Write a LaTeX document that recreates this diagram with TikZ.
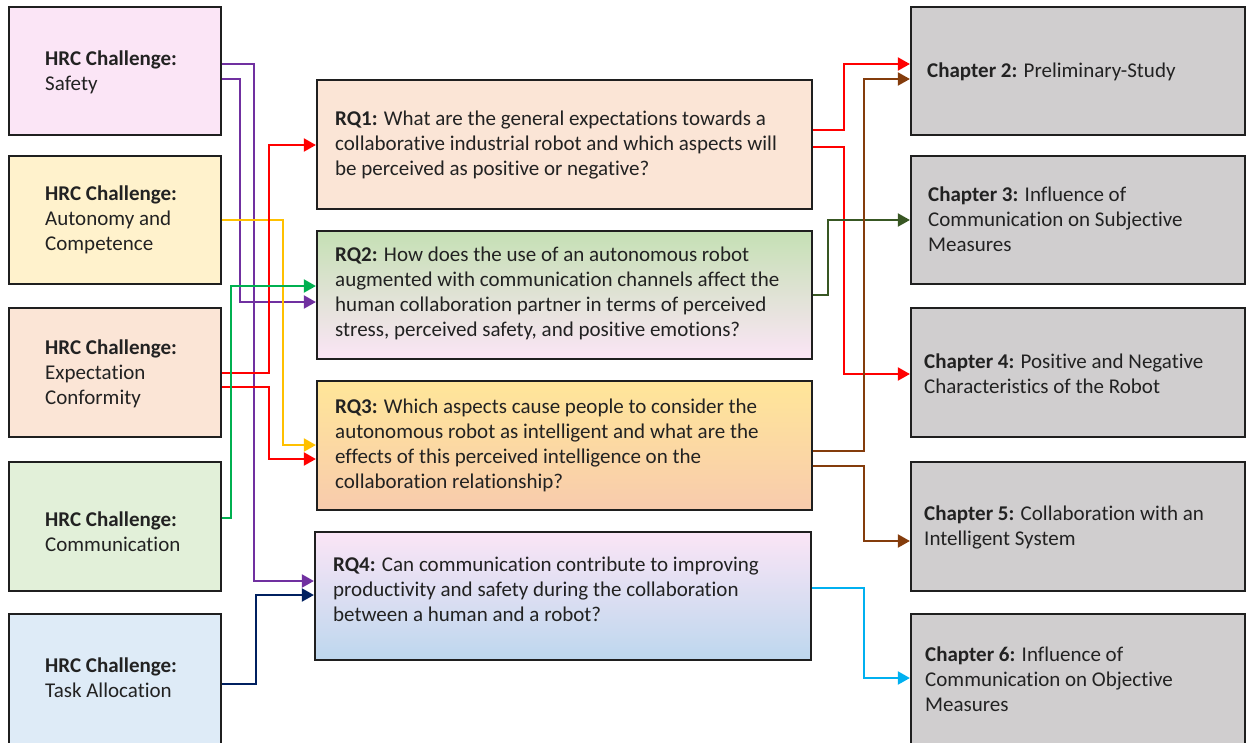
\documentclass[tikz,border=0pt]{standalone}
\usepackage{fontspec}
\setmainfont[Ligatures={NoCommon}]{Carlito}
\usetikzlibrary{arrows.meta}

\definecolor{txt}{HTML}{222222}
\definecolor{fsafe}{HTML}{FBE5F6}
\definecolor{fauto}{HTML}{FFF2CC}
\definecolor{fexp}{HTML}{FBE5D6}
\definecolor{fcomm}{HTML}{E2F0D9}
\definecolor{ftask}{HTML}{DEEBF7}
\definecolor{fchap}{HTML}{D0CECF}
\definecolor{gGreen}{HTML}{C5E0B4}
\definecolor{gPink}{HTML}{FBE5F6}
\definecolor{gGold}{HTML}{FFE699}
\definecolor{gPeach}{HTML}{F8CBAD}
\definecolor{gBlue}{HTML}{BDD7EE}
\definecolor{cpurple}{HTML}{7030A0}
\definecolor{cyellow}{HTML}{FFC000}
\definecolor{cred}{HTML}{FF0000}
\definecolor{cgreen}{HTML}{00B050}
\definecolor{cnavy}{HTML}{002060}
\definecolor{cdgreen}{HTML}{385723}
\definecolor{cbrown}{HTML}{843C0C}
\definecolor{ccyan}{HTML}{00B0F0}

\tikzset{
  box/.style={draw=black!88, line width=2.2pt, inner sep=0pt},
  lbox/.style={box, minimum width=212pt},
  rqbox/.style={box, minimum width=495pt},
  chbox/.style={box, fill=fchap, minimum width=334pt},
  label text/.style={anchor=west, inner sep=0pt, align=left, text=txt,
    font=\fontsize{21}{25}\selectfont},
  conn/.style={line width=2pt, -{Triangle[length=12pt,width=13pt]}},
}

\begin{document}
\begin{tikzpicture}[x=1pt,y=-1pt]
\useasboundingbox (0,0) rectangle (1246,742);

% challenge boxes (left column)
\node[lbox, fill=fsafe, minimum height=128pt] (safety) at (115,71) {};
\node[lbox, fill=fauto, minimum height=128pt] (auto) at (115,220) {};
\node[lbox, fill=fexp, minimum height=129pt] (expect) at (115,372.5) {};
\node[lbox, fill=fcomm, minimum height=129pt] (comm) at (115,526.5) {};
\node[lbox, fill=ftask, minimum height=136pt] (task) at (115,682) {};

\node[label text] (tsafety) at (45,72.5) {\textbf{HRC Challenge:}\\Safety};
\node[label text] (tauto) at (45,220) {\textbf{HRC Challenge:}\\Autonomy and\\Competence};
\node[label text] (texpect) at (45,374) {\textbf{HRC Challenge:}\\Expectation\\Conformity};
\node[label text] (tcomm) at (45,532) {\textbf{HRC Challenge:}\\Communication};
\node[label text] (ttask) at (45,678) {\textbf{HRC Challenge:}\\Task Allocation};

% research question boxes (middle column)
\node[rqbox, fill=fexp, minimum height=129pt] (rq1) at (564.5,144.5) {};
\node[rqbox, top color=gGreen, bottom color=gPink, minimum height=128pt] (rq2) at (564.5,295) {};
\node[rqbox, top color=gGold, bottom color=gPeach, minimum height=129pt] (rq3) at (564.5,445.5) {};
\node[rqbox, top color=gPink, bottom color=gBlue, minimum width=496pt, minimum height=128pt] (rq4) at (563,596) {};

\node[label text] (trq1) at (335,145) {\textbf{RQ1:} What are the general expectations towards a\\collaborative industrial robot and which aspects will\\be perceived as positive or negative?};
\node[label text] (trq2) at (335,293.5) {\textbf{RQ2:} How does the use of an autonomous robot\\augmented with communication channels affect the\\human collaboration partner in terms of perceived\\stress, perceived safety, and positive emotions?};
\node[label text] (trq3) at (335,445.5) {\textbf{RQ3:} Which aspects cause people to consider the\\autonomous robot as intelligent and what are the\\effects of this perceived intelligence on the\\collaboration relationship?};
\node[label text] (trq4) at (333,589) {\textbf{RQ4:} Can communication contribute to improving\\productivity and safety during the collaboration\\between a human and a robot?};

% chapter boxes (right column)
\node[chbox, minimum height=128pt] (ch2) at (1078,71) {};
\node[chbox, minimum height=128pt] (ch3) at (1078,220) {};
\node[chbox, minimum height=129pt] (ch4) at (1078,372.5) {};
\node[chbox, minimum height=129pt] (ch5) at (1078,526.5) {};
\node[chbox, minimum height=136pt] (ch6) at (1078,682) {};

\node[label text] (tch2) at (927,72) {\textbf{Chapter 2:} Preliminary-Study};
\node[label text] (tch3) at (928,219) {\textbf{Chapter 3:} Influence of\\Communication on Subjective\\Measures};
\node[label text] (tch4) at (924,374) {\textbf{Chapter 4:} Positive and Negative\\Characteristics of the Robot};
\node[label text] (tch5) at (924,527) {\textbf{Chapter 5:} Collaboration with an\\Intelligent System};
\node[label text] (tch6) at (925,679) {\textbf{Chapter 6:} Influence of\\Communication on Objective\\Measures};

% challenges -> research questions
\draw[conn, cpurple] (safety.east |- 0,64) -| (254,581) -- (rq4.west |- 0,581);
\draw[conn, cpurple] (safety.east |- 0,79) -| (240,302) -- (rq2.west |- 0,302);
\draw[conn, cyellow] (auto.east |- 0,220) -| (283,445) -- (rq3.west |- 0,445);
\draw[conn, cred] (expect.east |- 0,373) -| (269,145) -- (rq1.west |- 0,145);
\draw[conn, cred] (expect.east |- 0,387) -| (269,459) -- (rq3.west |- 0,459);
\draw[conn, cgreen] (comm.east |- 0,518) -| (231,286) -- (rq2.west |- 0,286);
\draw[conn, cnavy] (task.east |- 0,684) -| (256,595) -- (rq4.west |- 0,595);

% research questions -> chapters
\draw[conn, cred] (rq1.east |- 0,130) -| (844,64) -- (ch2.west |- 0,64);
\draw[conn, cred] (rq1.east |- 0,147) -| (844,374) -- (ch4.west |- 0,374);
\draw[conn, cdgreen] (rq2.east |- 0,295) -| (828,220) -- (ch3.west |- 0,220);
\draw[conn, cbrown] (rq3.east |- 0,451) -| (864,79) -- (ch2.west |- 0,79);
\draw[conn, cbrown] (rq3.east |- 0,466) -| (864,541) -- (ch5.west |- 0,541);
\draw[conn, ccyan] (rq4.east |- 0,588) -| (864,678) -- (ch6.west |- 0,678);
\end{tikzpicture}
\end{document}
